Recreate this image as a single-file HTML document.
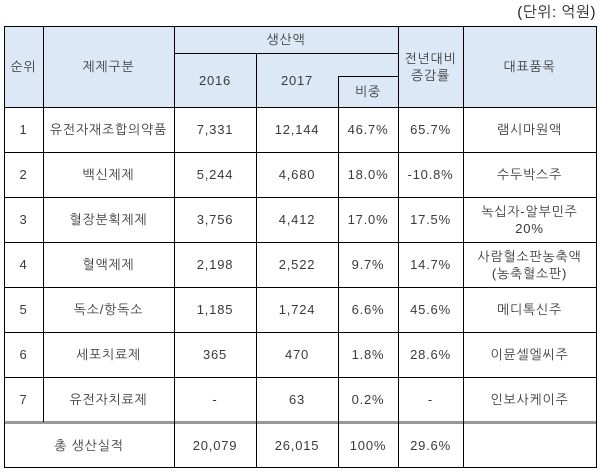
<!DOCTYPE html>
<html><head><meta charset="utf-8"><style>
html,body{margin:0;padding:0;background:#fff;}
body{width:600px;height:473px;position:relative;overflow:hidden;font-family:"Liberation Sans","NanumGothic","Noto Sans CJK KR",sans-serif;font-size:13px;color:#3a3a3a;letter-spacing:0.8px;}
.h{position:absolute;background:#000;height:1px;}
.v{position:absolute;background:#000;width:1px;}
.bg{position:absolute;background:#dde8f6;}
.t{position:absolute;display:flex;align-items:center;justify-content:center;text-align:center;line-height:17px;white-space:nowrap;}
</style></head><body>
<div class="t" style="left:490px;top:2px;width:106px;height:20px;justify-content:flex-end;font-size:15px;color:#222;letter-spacing:0.5px">(단위: 억원)</div>
<div class="bg" style="left:4px;top:26px;width:592px;height:81px"></div>

<div class="h" style="left:4px;top:26px;width:593px"></div>
<div class="h" style="left:174px;top:53px;width:224px"></div>
<div class="h" style="left:338px;top:76px;width:60px"></div>
<div class="h" style="left:4px;top:107px;width:593px"></div>
<div class="h" style="left:4px;top:152px;width:593px"></div>
<div class="h" style="left:4px;top:197px;width:593px"></div>
<div class="h" style="left:4px;top:242px;width:593px"></div>
<div class="h" style="left:4px;top:287px;width:593px"></div>
<div class="h" style="left:4px;top:332px;width:593px"></div>
<div class="h" style="left:4px;top:377px;width:593px"></div>
<div class="h" style="left:4px;top:421px;width:593px;height:3px;background:#999"></div>
<div class="h" style="left:4px;top:467px;width:593px"></div>

<div class="v" style="left:4px;top:26px;height:442px"></div>
<div class="v" style="left:43px;top:26px;height:396px"></div>
<div class="v" style="left:174px;top:26px;height:442px"></div>
<div class="v" style="left:256px;top:53px;height:415px"></div>
<div class="v" style="left:338px;top:76px;height:392px"></div>
<div class="v" style="left:398px;top:26px;height:442px"></div>
<div class="v" style="left:463px;top:26px;height:442px"></div>
<div class="v" style="left:596px;top:26px;height:442px"></div>

<div class="t" style="left:4px;top:26px;width:39px;height:81px">순위</div>
<div class="t" style="left:43px;top:26px;width:131px;height:81px">제제구분</div>
<div class="t" style="left:174px;top:26px;width:224px;height:27px">생산액</div>
<div class="t" style="left:174px;top:53px;width:82px;height:54px">2016</div>
<div class="t" style="left:256px;top:53px;width:82px;height:54px">2017</div>
<div class="t" style="left:338px;top:76px;width:60px;height:31px">비중</div>
<div class="t" style="left:398px;top:26px;width:65px;height:81px">전년대비<br>증감률</div>
<div class="t" style="left:463px;top:26px;width:133px;height:81px">대표품목</div>

<div class="t" style="left:4px;top:107px;width:39px;height:45px">1</div>
<div class="t" style="left:43px;top:107px;width:131px;height:45px">유전자재조합의약품</div>
<div class="t" style="left:174px;top:107px;width:82px;height:45px">7,331</div>
<div class="t" style="left:256px;top:107px;width:82px;height:45px">12,144</div>
<div class="t" style="left:338px;top:107px;width:60px;height:45px">46.7%</div>
<div class="t" style="left:398px;top:107px;width:65px;height:45px">65.7%</div>
<div class="t" style="left:463px;top:107px;width:133px;height:45px">램시마원액</div>

<div class="t" style="left:4px;top:152px;width:39px;height:45px">2</div>
<div class="t" style="left:43px;top:152px;width:131px;height:45px">백신제제</div>
<div class="t" style="left:174px;top:152px;width:82px;height:45px">5,244</div>
<div class="t" style="left:256px;top:152px;width:82px;height:45px">4,680</div>
<div class="t" style="left:338px;top:152px;width:60px;height:45px">18.0%</div>
<div class="t" style="left:398px;top:152px;width:65px;height:45px">-10.8%</div>
<div class="t" style="left:463px;top:152px;width:133px;height:45px">수두박스주</div>

<div class="t" style="left:4px;top:197px;width:39px;height:45px">3</div>
<div class="t" style="left:43px;top:197px;width:131px;height:45px">혈장분획제제</div>
<div class="t" style="left:174px;top:197px;width:82px;height:45px">3,756</div>
<div class="t" style="left:256px;top:197px;width:82px;height:45px">4,412</div>
<div class="t" style="left:338px;top:197px;width:60px;height:45px">17.0%</div>
<div class="t" style="left:398px;top:197px;width:65px;height:45px">17.5%</div>
<div class="t" style="left:463px;top:197px;width:133px;height:45px">녹십자-알부민주<br>20%</div>

<div class="t" style="left:4px;top:242px;width:39px;height:45px">4</div>
<div class="t" style="left:43px;top:242px;width:131px;height:45px">혈액제제</div>
<div class="t" style="left:174px;top:242px;width:82px;height:45px">2,198</div>
<div class="t" style="left:256px;top:242px;width:82px;height:45px">2,522</div>
<div class="t" style="left:338px;top:242px;width:60px;height:45px">9.7%</div>
<div class="t" style="left:398px;top:242px;width:65px;height:45px">14.7%</div>
<div class="t" style="left:463px;top:242px;width:133px;height:45px">사람혈소판농축액<br>(농축혈소판)</div>

<div class="t" style="left:4px;top:287px;width:39px;height:45px">5</div>
<div class="t" style="left:43px;top:287px;width:131px;height:45px">독소/항독소</div>
<div class="t" style="left:174px;top:287px;width:82px;height:45px">1,185</div>
<div class="t" style="left:256px;top:287px;width:82px;height:45px">1,724</div>
<div class="t" style="left:338px;top:287px;width:60px;height:45px">6.6%</div>
<div class="t" style="left:398px;top:287px;width:65px;height:45px">45.6%</div>
<div class="t" style="left:463px;top:287px;width:133px;height:45px">메디톡신주</div>

<div class="t" style="left:4px;top:332px;width:39px;height:45px">6</div>
<div class="t" style="left:43px;top:332px;width:131px;height:45px">세포치료제</div>
<div class="t" style="left:174px;top:332px;width:82px;height:45px">365</div>
<div class="t" style="left:256px;top:332px;width:82px;height:45px">470</div>
<div class="t" style="left:338px;top:332px;width:60px;height:45px">1.8%</div>
<div class="t" style="left:398px;top:332px;width:65px;height:45px">28.6%</div>
<div class="t" style="left:463px;top:332px;width:133px;height:45px">이뮨셀엘씨주</div>

<div class="t" style="left:4px;top:377px;width:39px;height:44px">7</div>
<div class="t" style="left:43px;top:377px;width:131px;height:44px">유전자치료제</div>
<div class="t" style="left:174px;top:377px;width:82px;height:44px">-</div>
<div class="t" style="left:256px;top:377px;width:82px;height:44px">63</div>
<div class="t" style="left:338px;top:377px;width:60px;height:44px">0.2%</div>
<div class="t" style="left:398px;top:377px;width:65px;height:44px">-</div>
<div class="t" style="left:463px;top:377px;width:133px;height:44px">인보사케이주</div>

<div class="t" style="left:4px;top:424px;width:170px;height:43px">총 생산실적</div>
<div class="t" style="left:174px;top:424px;width:82px;height:43px">20,079</div>
<div class="t" style="left:256px;top:424px;width:82px;height:43px">26,015</div>
<div class="t" style="left:338px;top:424px;width:60px;height:43px">100%</div>
<div class="t" style="left:398px;top:424px;width:65px;height:43px">29.6%</div>
</body></html>
